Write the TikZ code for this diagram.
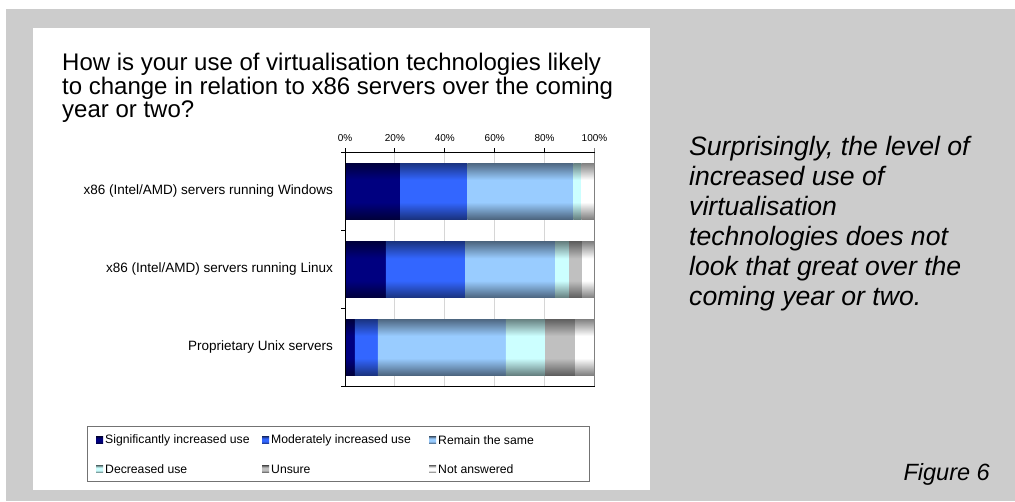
\documentclass[tikz,border=0pt]{standalone}
\usepackage{fontspec}
\setmainfont{Liberation Sans}

% bar colours: centre (C) and edge (E) of each band
\definecolor{sigC}{HTML}{000080}\definecolor{sigE}{HTML}{00003C}
\definecolor{modC}{HTML}{3366FF}\definecolor{modE}{HTML}{1A3380}
\definecolor{remC}{HTML}{99CCFF}\definecolor{remE}{HTML}{4D6680}
\definecolor{decC}{HTML}{CCFFFF}\definecolor{decE}{HTML}{668080}
\definecolor{unsC}{HTML}{C0C0C0}\definecolor{unsE}{HTML}{5E5E5E}
\definecolor{naC}{HTML}{FFFFFF}\definecolor{naE}{HTML}{808080}
\definecolor{pagegrey}{HTML}{CCCCCC}
\definecolor{gridgrey}{HTML}{D6D6D6}

% vertical bands: dark at top and bottom, bright in the middle
\newcommand\mkband[3]{%
  \pgfdeclareverticalshading{#1}{100bp}{color(0bp)=(#3); color(25bp)=(#3);
    color(40bp)=(#2); color(60bp)=(#2); color(75bp)=(#3); color(100bp)=(#3)}}
\mkband{shSig}{sigC}{sigE}
\mkband{shMod}{modC}{modE}
\mkband{shRem}{remC}{remE}
\mkband{shDec}{decC}{decE}
\mkband{shUns}{unsC}{unsE}
\mkband{shNa}{naC}{naE}

\tikzset{
  axisline/.style={black, line width=0.9pt},
  gridline/.style={gridgrey, line width=1pt},
  titletext/.style={anchor=base west, inner sep=0pt, font=\fontsize{24}{26}\selectfont},
  notetext/.style={anchor=base west, inner sep=0pt, font=\fontsize{26.6}{30}\itshape},
  ticklabel/.style={font=\fontsize{10}{12}\selectfont, anchor=base, inner sep=0pt},
  catlabel/.style={font=\fontsize{13.5}{16}\selectfont, anchor=east, inner sep=0pt},
  legtext/.style={font=\fontsize{12.2}{14}\selectfont, anchor=west, inner sep=0pt},
  legbox/.style={draw=black!55, line width=0.8pt},
}

% x position of a percentage on the value axis
\newcommand\px[1]{345+2.495*#1}

\begin{document}
\begin{tikzpicture}[x=1pt, y=-1pt]
\useasboundingbox (0,0) rectangle (1015,501);
\fill[white] (0,0) rectangle (1015,501);
\fill[pagegrey] (6,9) rectangle (1015,501);
\fill[white] (33,28) rectangle (650,490);

% chart title
\node[titletext] (title1) at (62,70) {How is your use of virtualisation technologies likely};
\node[titletext] (title2) at (62,94) {to change in relation to x86 servers over the coming};
\node[titletext] (title3) at (62,117) {year or two?};

% grid lines
\foreach \p in {20,40,60,80}
  \draw[gridline] ({\px{\p}},152) -- ({\px{\p}},386);

% stacked bars
\newcommand\stackbar[2]{%
  \foreach \a/\b/\s in {#2}
    \shade[shading=\s] ({\px{\a}},#1-28) rectangle ({\px{\b}},#1+28);}
\stackbar{191}{0/22.1/shSig, 22.1/49.0/shMod, 49.0/91.6/shRem,
               91.6/94.8/shDec, 94.8/100/shNa}
\stackbar{269.5}{0/16.4/shSig, 16.4/48.1/shMod, 48.1/84.2/shRem,
                 84.2/89.8/shDec, 89.8/95.0/shUns, 95.0/100/shNa}
\stackbar{347}{0/4.0/shSig, 4.0/13.2/shMod, 13.2/64.5/shRem,
               64.5/80.2/shDec, 80.2/92.2/shUns, 92.2/100/shNa}

% axes and plot frame
\draw[black!50, line width=0.9pt] ({\px{100}},148) -- ({\px{100}},386);
\draw[axisline] (345,386) -- ({\px{100}},386);
\draw[axisline] (345,152) -- ({\px{100}},152);
\draw[axisline] (345,152) -- (345,386);
\foreach \p in {0,20,40,60,80}
  \draw[axisline] ({\px{\p}},148) -- ({\px{\p}},152);
\foreach \y in {152,230,308,386}
  \draw[axisline] (341,\y) -- (345,\y);

% value axis labels
\foreach \p in {0,20,40,60,80,100}
  \node[ticklabel] (t\p) at ({\px{\p}},141) {\p\%};

% category labels
\node[catlabel] (catW) at (333,191) {x86 (Intel/AMD) servers running Windows};
\node[catlabel] (catL) at (333,269.5) {x86 (Intel/AMD) servers running Linux};
\node[catlabel] (catU) at (333,347) {Proprietary Unix servers};

% legend
\draw[legbox] (87,426) rectangle (589,481);
\foreach \x/\y/\s/\t/\n in {
    96/440/shSig/Significantly increased use/lg1,
    262/440/shMod/Moderately increased use/lg2,
    429/440/shRem/Remain the same/lg3,
    96/469/shDec/Decreased use/lg4,
    262/469/shUns/Unsure/lg5,
    429/469/shNa/Not answered/lg6} {
  \shade[shading=\s] (\x,\y-3.5) rectangle (\x+7,\y+3.5);
  \node[legtext] (\n) at (\x+9,\y) {\t};
}

% commentary beside the chart
\node[notetext] (note1) at (689,155) {Surprisingly, the level of};
\node[notetext] (note2) at (689,185) {increased use of};
\node[notetext] (note3) at (689,215) {virtualisation};
\node[notetext] (note4) at (689,245) {technologies does not};
\node[notetext] (note5) at (689,275) {look that great over the};
\node[notetext] (note6) at (689,305) {coming year or two.};
\node[anchor=base east, inner sep=0pt,
      font=\fontsize{23.5}{27}\itshape] (fig) at (990,480) {Figure 6};
\end{tikzpicture}
\end{document}
